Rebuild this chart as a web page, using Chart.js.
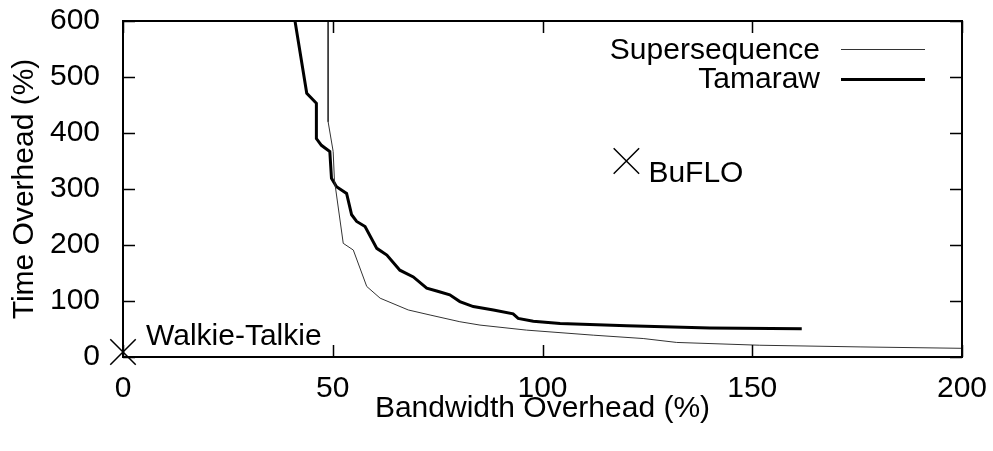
<!DOCTYPE html>
<html>
<head>
<meta charset="utf-8">
<script src="https://cdn.jsdelivr.net/npm/chart.js@4"></script>
<style>
  body { margin: 0; background: #fff; }
  canvas { display: block; }
</style>
</head>
<body>
<canvas id="chart" width="993" height="451"></canvas>
<script>
// Data (x = bandwidth overhead %, y = time overhead %)
const superX = [48.9, 48.9, 50.1, 50.4, 52.5, 54.9, 58.1, 61.3, 68.0, 73.2, 80.3, 85.1, 96.2, 112.1, 124.0, 132.0, 151.8, 175.7, 200];
const superY = [600, 420, 367, 316, 203, 191, 126, 105, 84, 75, 63, 57, 48, 39, 33, 26, 21, 18, 15.5];

const tamX = [41.0, 43.8, 46.1, 46.1, 47.3, 49.3, 49.7, 50.9, 53.3, 54.5, 55.7, 57.7, 60.5, 62.9, 66.0, 69.2, 72.4, 75.2, 77.9, 80.3, 83.5, 88.3, 93.0, 94.2, 97.8, 104.2, 120.1, 139.9, 161.8];
const tamY = [600, 471, 453, 390, 378, 367, 319, 304, 292, 254, 242, 233, 194, 182, 155, 143, 123, 117, 111, 99, 90, 84, 77, 69, 64, 60, 56, 52, 50.5];

const pointNames = ['Walkie-Talkie', 'BuFLO'];
const pointX = [0, 120];
const pointY = [9, 350];

const xTicks = [0, 50, 100, 150, 200];
const yTicks = [0, 100, 200, 300, 400, 500, 600];

const FONT = 'Liberation Sans, Arial, sans-serif';
const FSIZE = 30;

const toXY = (xs, ys) => xs.map((x, i) => ({ x: x, y: ys[i] }));

// Bingkai, tick ke dalam, label titik dan legenda
const framePlugin = {
  id: 'frame',
  afterDraw(chart) {
    const { ctx, chartArea: a, scales } = chart;
    const xs = scales.x, ys = scales.y;
    ctx.save();
    ctx.strokeStyle = '#000';
    ctx.lineWidth = 1.5;
    ctx.beginPath();
    xTicks.forEach(v => {
      const px = Math.round(xs.getPixelForValue(v)) + 0.5;
      ctx.moveTo(px, a.bottom); ctx.lineTo(px, a.bottom - 12);
      ctx.moveTo(px, a.top); ctx.lineTo(px, a.top + 12);
    });
    yTicks.forEach(v => {
      const py = Math.round(ys.getPixelForValue(v)) + 0.5;
      ctx.moveTo(a.left, py); ctx.lineTo(a.left + 12, py);
      ctx.moveTo(a.right, py); ctx.lineTo(a.right - 12, py);
    });
    ctx.stroke();
    ctx.lineWidth = 2;
    ctx.strokeRect(a.left, a.top, a.right - a.left, a.bottom - a.top);

    // label titik
    ctx.fillStyle = '#000';
    ctx.font = FSIZE + 'px ' + FONT;
    ctx.textAlign = 'left';
    ctx.textBaseline = 'alphabetic';
    const offs = [[23, -7], [22, 21]];
    pointNames.forEach((name, i) => {
      const px = xs.getPixelForValue(pointX[i]);
      const py = ys.getPixelForValue(pointY[i]);
      ctx.fillText(name, px + offs[i][0], py + offs[i][1]);
    });

    // legenda
    ctx.textAlign = 'right';
    ctx.fillText('Supersequence', 820, 59);
    ctx.fillText('Tamaraw', 820, 88);
    ctx.beginPath();
    ctx.strokeStyle = '#333';
    ctx.lineWidth = 1;
    ctx.moveTo(841, 49.5); ctx.lineTo(925, 49.5);
    ctx.stroke();
    ctx.beginPath();
    ctx.strokeStyle = '#000';
    ctx.lineWidth = 3;
    ctx.moveTo(841, 79.5); ctx.lineTo(925, 79.5);
    ctx.stroke();
    ctx.restore();
  }
};

new Chart(document.getElementById('chart'), {
  type: 'scatter',
  data: {
    datasets: [
      {
        label: 'Supersequence',
        data: toXY(superX, superY),
        showLine: true,
        borderColor: '#333',
        borderWidth: 1,
        pointRadius: 0
      },
      {
        label: 'Tamaraw',
        data: toXY(tamX, tamY),
        showLine: true,
        borderColor: '#000',
        borderWidth: 3,
        pointRadius: 0
      },
      {
        label: 'points',
        data: toXY(pointX, pointY),
        pointStyle: 'crossRot',
        pointRadius: 18,
        pointBorderWidth: 1.5,
        borderColor: '#000',
        backgroundColor: '#000',
        clip: false
      }
    ]
  },
  options: {
    responsive: false,
    animation: false,
    layout: { padding: { left: 0, top: 21, right: 31, bottom: 0 } },
    plugins: {
      legend: { display: false },
      tooltip: { enabled: false }
    },
    scales: {
      x: {
        type: 'linear',
        min: 0,
        max: 200,
        afterFit: s => { s.height = 94; s.paddingLeft = 0; s.paddingRight = 0; },
        afterBuildTicks: s => { s.ticks = xTicks.map(v => ({ value: v })); },
        grid: { display: false, drawTicks: false },
        border: { display: false },
        ticks: { color: '#000', padding: 14, font: { family: FONT, size: FSIZE } },
        title: {
          display: true,
          text: 'Bandwidth Overhead (%)',
          color: '#000',
          font: { family: FONT, size: FSIZE },
          padding: { top: 0, bottom: 24 }
        }
      },
      y: {
        type: 'linear',
        min: 0,
        max: 600,
        afterFit: s => { s.width = 123; s.paddingTop = 0; s.paddingBottom = 0; },
        afterBuildTicks: s => { s.ticks = yTicks.map(v => ({ value: v })); },
        grid: { display: false, drawTicks: false },
        border: { display: false },
        ticks: { color: '#000', padding: 23, font: { family: FONT, size: FSIZE } },
        title: {
          display: true,
          text: 'Time Overhead (%)',
          color: '#000',
          font: { family: FONT, size: FSIZE },
          padding: { top: 7, bottom: 0 }
        }
      }
    }
  },
  plugins: [framePlugin]
});
</script>
</body>
</html>
